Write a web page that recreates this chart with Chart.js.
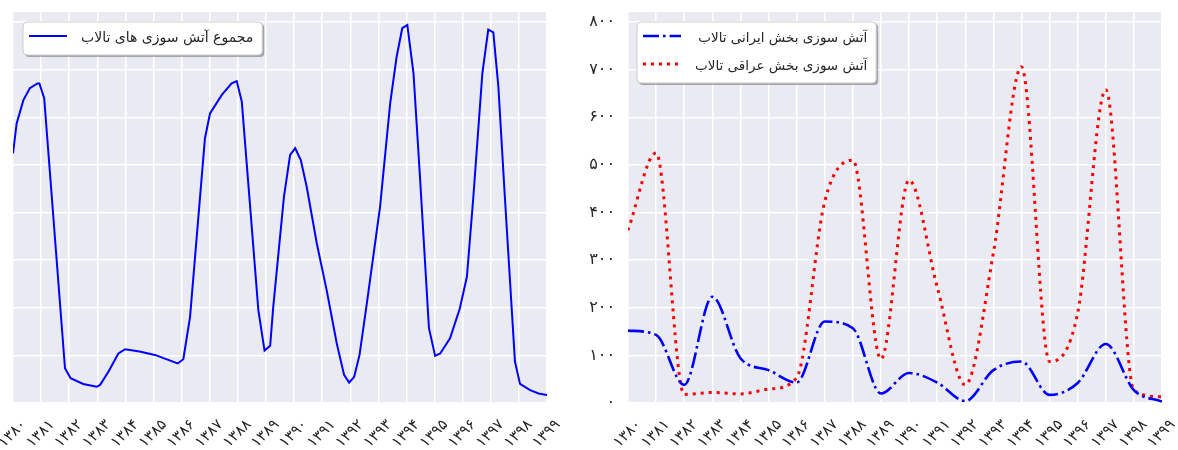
<!DOCTYPE html>
<html>
<head>
<meta charset="utf-8">
<script src="https://cdn.jsdelivr.net/npm/chart.js@4.4.0/dist/chart.umd.min.js"></script>
<style>
    body { margin: 0; background: #ffffff; }
    #wrap { position: relative; width: 1178px; height: 450px; overflow: hidden; }
    canvas { position: absolute; top: 0; }
    #totalChart { left: 0; }
    #partChart { left: 560px; }
</style>
</head>
<body>
<div id="wrap">
    <canvas id="totalChart" width="560" height="450"></canvas>
    <canvas id="partChart" width="618" height="450"></canvas>
</div>
<script>
const years = [1380, 1381, 1382, 1383, 1384, 1385, 1386, 1387, 1388, 1389,
               1390, 1391, 1392, 1393, 1394, 1395, 1396, 1397, 1398, 1399];
const yearLabels = ['۱۳۸۰', '۱۳۸۱', '۱۳۸۲', '۱۳۸۳', '۱۳۸۴', '۱۳۸۵', '۱۳۸۶', '۱۳۸۷', '۱۳۸۸', '۱۳۸۹',
                    '۱۳۹۰', '۱۳۹۱', '۱۳۹۲', '۱۳۹۳', '۱۳۹۴', '۱۳۹۵', '۱۳۹۶', '۱۳۹۷', '۱۳۹۸', '۱۳۹۹'];
const yTicks = [0, 100, 200, 300, 400, 500, 600, 700, 800];
const yTickLabels = ['۰', '۱۰۰', '۲۰۰', '۳۰۰', '۴۰۰', '۵۰۰', '۶۰۰', '۷۰۰', '۸۰۰'];

// right panel: yearly values
const iranFires = [152, 143, 38, 223, 94, 69, 43, 171, 157, 20, 63, 43, 4, 69, 87, 17, 42, 124, 27, 3];
const iraqFires = [363, 525, 18, 22, 19, 29, 53, 423, 510, 92, 468, 244, 38, 315, 706, 87, 189, 658, 27, 13];

// left panel: total, read at the line's corners
const totalYears = [1380.00, 1380.13, 1380.37, 1380.60, 1380.87, 1380.94, 1381.11, 1381.85, 1382.05, 1382.50,
                    1382.98, 1383.10, 1383.40, 1383.75, 1383.99, 1384.50, 1385.05, 1385.86, 1386.06, 1386.30,
                    1386.83, 1387.01, 1387.43, 1387.78, 1387.96, 1388.14, 1388.73, 1388.95, 1389.15, 1389.26,
                    1389.64, 1389.86, 1390.04, 1390.24, 1390.45, 1390.81, 1391.16, 1391.52, 1391.78, 1391.96,
                    1392.14, 1392.33, 1392.59, 1393.06, 1393.42, 1393.65, 1393.85, 1394.03, 1394.25, 1394.48,
                    1394.80, 1395.02, 1395.20, 1395.55, 1395.90, 1396.15, 1396.38, 1396.70, 1396.91, 1397.09,
                    1397.27, 1397.50, 1397.86, 1398.04, 1398.40, 1398.70, 1399.00];
const totalFires = [524, 587, 636, 661, 671, 671, 640, 73, 52, 40,
                    34, 38, 66, 104, 113, 108, 101, 83, 92, 181,
                    556, 608, 647, 671, 676, 633, 195, 110, 120, 202,
                    433, 521, 535, 510, 454, 335, 237, 125, 59, 43,
                    55, 101, 209, 412, 629, 727, 787, 794, 692, 475,
                    157, 99, 104, 136, 199, 265, 433, 692, 784, 778,
                    664, 433, 87, 40, 27, 20, 17];

const totalLegend = 'مجموع آتش سوزی های تالاب';
const iranLegend = 'آتش سوزی بخش ایرانی تالاب';
const iraqLegend = 'آتش سوزی بخش عراقی تالاب';

const textColor = '#262626';
const fontName = 'DejaVu Sans';

const plotBackground = {
    id: 'plotBackground',
    beforeDraw(chart) {
        const {ctx, chartArea} = chart;
        ctx.save();
        ctx.fillStyle = '#eaeaf2';
        ctx.fillRect(chartArea.left, chartArea.top, chartArea.right - chartArea.left, chartArea.bottom - chartArea.top);
        ctx.restore();
    }
};

function roundRect(ctx, x, y, w, h, r) {
    ctx.beginPath();
    ctx.moveTo(x + r, y);
    ctx.arcTo(x + w, y, x + w, y + h, r);
    ctx.arcTo(x + w, y + h, x, y + h, r);
    ctx.arcTo(x, y + h, x, y, r);
    ctx.arcTo(x, y, x + w, y, r);
    ctx.closePath();
}

// matplotlib-like legend box with shadow
const boxLegend = {
    id: 'boxLegend',
    afterDraw(chart, args, opts) {
        const ctx = chart.ctx;
        const area = chart.chartArea;
        const rowH = 28;
        ctx.save();
        ctx.font = opts.size + 'px "' + fontName + '"';
        let textW = 0;
        chart.data.datasets.forEach(ds => { textW = Math.max(textW, ctx.measureText(ds.label).width); });
        const x = area.left + opts.dx;
        const y = area.top + 10;
        const w = 6 + 38 + 14 + textW + 9;
        const h = chart.data.datasets.length * rowH + 5;

        ctx.fillStyle = 'rgba(0,0,0,0.3)';
        roundRect(ctx, x + 2, y + 2, w, h, 4);
        ctx.fill();
        ctx.fillStyle = '#ffffff';
        ctx.strokeStyle = '#cccccc';
        ctx.lineWidth = 1;
        roundRect(ctx, x, y, w, h, 4);
        ctx.fill();
        ctx.stroke();

        chart.data.datasets.forEach((ds, i) => {
            const cy = y + 16 + i * rowH;
            ctx.strokeStyle = ds.borderColor;
            ctx.lineWidth = ds.borderWidth;
            ctx.setLineDash(ds.borderDash || []);
            ctx.lineCap = 'butt';
            ctx.beginPath();
            ctx.moveTo(x + 6, cy - 2);
            ctx.lineTo(x + 44, cy - 2);
            ctx.stroke();
            ctx.setLineDash([]);
            ctx.fillStyle = textColor;
            ctx.direction = 'rtl';
            ctx.textAlign = 'right';
            ctx.textBaseline = 'middle';
            ctx.fillText(ds.label, x + w - 9, cy);
        });
        ctx.restore();
    }
};

function xScale() {
    return {
        type: 'linear',
        min: 1380,
        max: 1399,
        afterBuildTicks: s => { s.ticks = years.map(v => ({value: v})); },
        afterFit: s => { s.height = 47; s.paddingLeft = 0; s.paddingRight = 0; },
        grid: {color: '#ffffff', lineWidth: 1.5, drawTicks: false},
        border: {display: false},
        ticks: {
            autoSkip: false,
            minRotation: 45,
            maxRotation: 45,
            labelOffset: 11,
            padding: 13,
            color: textColor,
            font: {family: fontName, size: 15},
            callback: (v, i) => yearLabels[i]
        }
    };
}

function yScale(showLabels, width) {
    return {
        min: 0,
        max: 821,
        afterBuildTicks: s => { s.ticks = yTicks.map(v => ({value: v})); },
        afterFit: s => { s.width = width; s.paddingTop = 0; s.paddingBottom = 0; },
        grid: {color: '#ffffff', lineWidth: 1.5, drawTicks: false},
        border: {display: false},
        ticks: {
            display: showLabels,
            padding: 13,
            color: textColor,
            font: {family: fontName, size: 16},
            callback: (v, i) => yTickLabels[i]
        }
    };
}

new Chart(document.getElementById('totalChart'), {
    type: 'line',
    data: {
        datasets: [{
            label: totalLegend,
            data: totalYears.map((x, i) => ({x: x, y: totalFires[i]})),
            borderColor: '#0000ff',
            borderWidth: 2,
            pointRadius: 0,
            tension: 0,
            fill: false
        }]
    },
    options: {
        responsive: false,
        animation: false,
        devicePixelRatio: 1,
        layout: {padding: {left: 13, right: 13, top: 12, bottom: 0}},
        scales: {x: xScale(), y: yScale(false, 0)},
        plugins: {legend: {display: false}, tooltip: {enabled: false}, boxLegend: {dx: 10, size: 14}}
    },
    plugins: [plotBackground, boxLegend]
});

new Chart(document.getElementById('partChart'), {
    type: 'line',
    data: {
        datasets: [{
            label: iranLegend,
            data: years.map((x, i) => ({x: x, y: iranFires[i]})),
            borderColor: '#0000ff',
            borderWidth: 2.6,
            borderDash: [16, 4, 2.6, 4],
            borderCapStyle: 'butt',
            pointRadius: 0,
            cubicInterpolationMode: 'monotone',
            fill: false
        }, {
            label: iraqLegend,
            data: years.map((x, i) => ({x: x, y: iraqFires[i]})),
            borderColor: '#ff0000',
            borderWidth: 3,
            borderDash: [3, 5],
            borderCapStyle: 'butt',
            pointRadius: 0,
            cubicInterpolationMode: 'monotone',
            fill: false
        }]
    },
    options: {
        responsive: false,
        animation: false,
        devicePixelRatio: 1,
        layout: {padding: {left: 0, right: 16, top: 12, bottom: 0}},
        scales: {x: xScale(), y: yScale(true, 68)},
        plugins: {legend: {display: false}, tooltip: {enabled: false}, boxLegend: {dx: 9, size: 13.5}}
    },
    plugins: [plotBackground, boxLegend]
});
</script>
</body>
</html>
